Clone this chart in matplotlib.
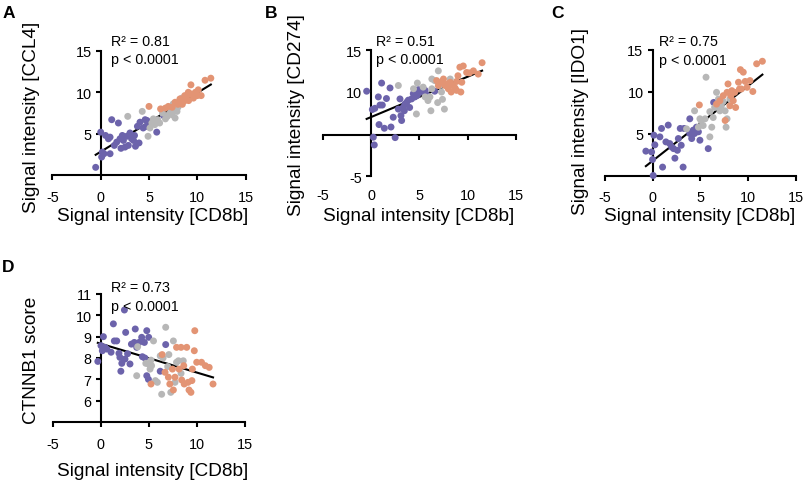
import matplotlib.pyplot as plt
import numpy as np

plt.rcParams['font.family'] = ['Liberation Sans', 'DejaVu Sans']
plt.rcParams['axes.unicode_minus'] = False

W, H = 805, 485
purple = '#6C63AB'
grey = '#B7B7B7'
orange = '#E39474'

# CD8b signal (x) and the other marker (y), by group
# panel A: CCL4
ccl4_purple_x = [-0.52, 0.1, 0.34, 0.17, 0.97, 0.0, 0.5, 0.97, 1.14, 1.83, 1.41, 1.66, 2.0, 2.24, 2.52, 2.1, 2.86,
                 2.7, 3.03, 3.2, 3.5, 3.6, 3.97, 3.8, 4.07, 4.4, 4.6, 4.8, 4.7, 5.8, 6.5, 3.4, 2.35, 0.8]
ccl4_purple_y = [0.96, 2.2, 2.6, 2.8, 2.6, 5.2, 4.8, 4.6, 6.7, 6.3, 3.6, 4.0, 4.4, 4.8, 3.4, 3.25, 3.6,
                 4.7, 5.1, 4.4, 4.8, 3.5, 3.9, 5.9, 6.4, 5.7, 6.7, 6.6, 5.9, 5.2, 7.2, 4.2, 4.2, 4.4]
ccl4_grey_x = [2.8, 4.3, 4.9, 5.1, 5.3, 5.6, 5.9, 6.1, 6.4, 6.7, 6.9, 7.1, 7.3, 7.5, 7.7, 7.9, 8.0, 8.2, 8.4, 7.4, 5.45]
ccl4_grey_y = [7.1, 7.7, 4.7, 5.7, 6.3, 6.1, 6.7, 6.3, 7.5, 6.8, 7.1, 7.4, 7.9, 8.6, 6.9, 7.7, 8.2, 8.9, 9.3, 7.3, 6.8]
ccl4_orange_x = [5.0, 6.2, 6.7, 7.0, 7.4, 7.7, 8.0, 8.45, 8.65, 8.9, 9.07, 9.34, 9.34, 9.6, 9.8, 10.1, 10.4, 10.8,
                 11.4, 9.1, 8.7, 8.2, 10.0]
ccl4_orange_y = [8.3, 8.0, 8.1, 8.3, 8.2, 8.8, 8.55, 8.55, 8.95, 9.5, 10.0, 10.9, 9.8, 9.3, 10.0, 10.3, 9.6, 11.45,
                 11.7, 9.0, 9.6, 9.2, 9.6]

# panel B: CD274
cd274_purple_x = [-0.45, 1.1, 1.97, 0.14, 0.4, 0.93, 1.17, 0.76, 1.6, 0.83, 1.38, 2.07, 2.3, 2.5, 0.24, 0.34, 3.0,
                  3.17, 3.1, 3.34, 3.5, 3.86, 4.0, 4.2, 4.38, 4.55, 4.8, 4.9, 5.24, 5.6, 5.76, 6.6, 2.83, 3.45, 3.7]
cd274_purple_y = [10.0, 11.0, 10.4, 7.75, 7.9, 8.3, 8.3, 9.3, 9.1, 5.9, 5.45, 5.6, 6.8, 4.3, 4.35, 3.4, 9.05,
                  6.4, 7.0, 8.0, 8.4, 8.9, 8.0, 9.05, 9.7, 9.3, 9.5, 10.2, 9.9, 10.1, 9.55, 10.0, 7.8, 7.6, 8.65]
cd274_grey_x = [2.83, 4.8, 4.4, 4.7, 5.4, 5.6, 5.9, 6.1, 6.2, 6.3, 6.97, 7.1, 7.3, 7.4, 7.6, 6.9, 8.2, 6.3, 6.6]
cd274_grey_y = [10.7, 11.0, 10.3, 7.2, 10.5, 9.3, 8.85, 9.3, 7.6, 11.5, 12.5, 10.7, 9.9, 9.0, 7.8, 8.6, 11.5, 10.3, 11.3]
cd274_orange_x = [6.8, 6.97, 7.3, 7.66, 7.9, 8.2, 8.5, 8.7, 8.86, 9.0, 9.2, 9.55, 9.3, 8.86, 9.9, 10.2, 10.6, 11.1,
                  11.5, 8.3, 8.0, 9.4, 7.5]
cd274_orange_y = [11.3, 10.7, 11.1, 10.7, 10.9, 11.1, 10.7, 10.4, 11.2, 11.9, 12.95, 13.1, 9.9, 10.1, 12.3, 12.25,
                  12.5, 12.1, 13.5, 9.9, 10.3, 11.1, 11.5]

# panel C: IDO1
ido1_purple_x = [0.07, -0.7, -0.1, 0.0, 0.14, 0.77, 1.05, 0.94, 1.64, 1.4, 1.8, 2.0, 2.2, 2.34, 2.6, 3.0, 2.9, 3.3,
                 3.2, 3.9, 3.9, 4.1, 4.26, 4.4, 4.6, 4.8, 4.96, 5.83, 6.4, 0.24, 2.7]
ido1_purple_y = [0.0, 2.9, 2.8, 1.9, 4.8, 4.6, 1.0, 5.6, 6.0, 4.0, 3.8, 3.4, 3.2, 2.06, 3.0, 3.6, 5.6, 5.6,
                 1.0, 6.75, 5.0, 4.4, 5.4, 5.0, 5.75, 5.2, 4.2, 3.2, 8.7, 3.65, 4.4]
ido1_grey_x = [4.4, 3.56, 5.1, 5.5, 5.3, 5.6, 6.0, 6.2, 6.35, 6.5, 6.7, 6.9, 7.05, 7.2, 7.4, 7.6, 7.7, 7.8, 8.1,
               4.8, 4.96, 6.0]
ido1_grey_y = [7.7, 5.55, 6.5, 6.75, 5.95, 11.7, 4.6, 5.75, 6.9, 8.1, 9.9, 9.1, 7.7, 8.3, 8.8, 7.7, 5.75, 6.75, 9.1,
               5.75, 6.75, 7.6]
ido1_orange_x = [4.9, 6.7, 7.05, 7.4, 7.6, 7.8, 7.9, 8.1, 8.3, 8.45, 8.6, 8.7, 9.0, 9.1, 9.2, 9.5, 9.3, 9.7, 9.9,
                 10.2, 10.5, 10.9, 11.5, 8.2]
ido1_orange_y = [8.4, 8.5, 8.9, 9.5, 6.55, 9.9, 10.9, 8.3, 10.1, 8.9, 9.9, 8.1, 11.1, 10.3, 12.6, 12.3, 10.3, 11.2,
                 10.5, 11.3, 10.0, 13.3, 13.6, 9.5]

# panel D: CTNNB1 score
ctnnb1_purple_x = [-0.3, 0.28, 0.03, 0.45, 0.17, 0.63, 1.08, 1.32, 1.42, 1.67, 1.9, 2.0, 2.1, 2.47, 2.6, 2.53, 2.8,
                   3.05, 3.2, 3.6, 3.5, 3.75, 4.0, 4.27, 4.55, 4.8, 5.0, 4.34, 4.6, 4.8, 4.97, 6.2, 6.77, 2.2]
ctnnb1_purple_y = [7.84, 9.0, 8.58, 8.5, 8.34, 8.42, 8.27, 9.6, 8.8, 8.8, 8.22, 8.03, 7.38, 10.25, 9.2, 7.95, 8.2,
                   7.72, 8.65, 9.36, 8.73, 8.5, 8.73, 8.97, 8.73, 9.28, 8.97, 8.06, 8.0, 7.17, 7.0, 7.38, 8.63, 7.75]
ctnnb1_grey_x = [3.85, 3.75, 4.7, 4.97, 5.14, 5.24, 5.5, 5.7, 5.9, 6.2, 6.35, 6.5, 6.77, 6.98, 7.1, 7.3, 7.57, 7.74,
                 7.9, 8.1, 8.6, 8.37, 5.3]
ctnnb1_grey_y = [8.53, 7.17, 7.75, 7.72, 7.48, 7.9, 8.8, 6.94, 6.86, 8.1, 6.3, 8.0, 9.44, 7.6, 8.16, 6.39, 8.8, 6.86,
                 7.8, 7.87, 7.87, 7.28, 7.64]
ctnnb1_orange_x = [5.24, 6.4, 6.7, 7.05, 7.2, 7.47, 7.57, 7.74, 7.9, 8.16, 8.37, 8.44, 8.65, 8.7, 8.96, 9.1, 9.2,
                   9.4, 9.5, 9.8, 9.75, 10.0, 9.55, 10.5, 10.9, 11.3, 11.7]
ctnnb1_orange_y = [6.78, 8.16, 7.33, 7.1, 6.78, 7.48, 6.5, 7.1, 8.5, 7.48, 8.5, 6.97, 7.64, 6.78, 8.5, 6.86, 6.5,
                   6.39, 6.94, 9.28, 8.34, 7.8, 7.48, 7.8, 7.64, 7.56, 6.78]

# trend lines (slope, intercept) and stats text
fits = {'A': (0.71, 2.84), 'B': (0.496, 6.82), 'C': (0.893, 1.74), 'D': (-0.135, 8.67)}
r2_text = {'A': 'R\u00b2 = 0.81', 'B': 'R\u00b2 = 0.51', 'C': 'R\u00b2 = 0.75', 'D': 'R\u00b2 = 0.73'}
p_text = 'p < 0.0001'
x_label = 'Signal intensity [CD8b]'
y_labels = {'A': 'Signal intensity [CCL4]', 'B': 'Signal intensity [CD274]',
            'C': 'Signal intensity [IDO1]', 'D': 'CTNNB1 score'}

fig = plt.figure(figsize=(W / 100, H / 100), dpi=100)


def px_text(x, y, s, **kw):
    fig.text(x / W, 1 - y / H, s, **kw)


def add_ax(l, t, r, b):
    return fig.add_axes([l / W, 1 - b / H, (r - l) / W, (b - t) / H])


def panel(ax, groups, key, ylim, ycross, yticks, yticklabels, xpad):
    for gx, gy, c in groups:
        ax.scatter(gx, gy, s=25, color=c, edgecolors='none', zorder=3, clip_on=False)
    allx = np.concatenate([np.array(g[0]) for g in groups])
    xs = np.array([allx.min(), allx.max()])
    m, b = fits[key]
    ax.plot(xs, m * xs + b, color='black', lw=1.5, zorder=2)
    ax.set_xlim(-5, 15)
    ax.set_ylim(*ylim)
    ax.spines['top'].set_visible(False)
    ax.spines['right'].set_visible(False)
    ax.spines['left'].set_position(('data', 0))
    ax.spines['bottom'].set_position(('data', ycross))
    for sp in ['left', 'bottom']:
        ax.spines[sp].set_linewidth(1.5)
    ax.set_xticks([-5, 0, 5, 10, 15])
    ax.set_yticks(yticks)
    ax.set_yticklabels(yticklabels)
    ax.tick_params(direction='out', length=3.6, width=1.5, labelsize=10.4)
    ax.tick_params(axis='x', pad=xpad)
    ax.tick_params(axis='y', pad=3)
    ax.patch.set_visible(False)


axA = add_ax(52.4, 51.8, 245.6, 176.3)
panel(axA, [(ccl4_purple_x, ccl4_purple_y, purple), (ccl4_grey_x, ccl4_grey_y, grey),
            (ccl4_orange_x, ccl4_orange_y, orange)], 'A', (0, 15), 0, [5, 10, 15], ['5', '10', '15'], 7)

axB = add_ax(322.7, 51.5, 515.9, 177.2)
panel(axB, [(cd274_purple_x, cd274_purple_y, purple), (cd274_grey_x, cd274_grey_y, grey),
            (cd274_orange_x, cd274_orange_y, orange)], 'B', (-0.44, 15), 4.68, [-0.44, 10, 15], ['-5', '10', '15'], 35)

axC = add_ax(604.8, 50.5, 795.8, 176.5)
panel(axC, [(ido1_purple_x, ido1_purple_y, purple), (ido1_grey_x, ido1_grey_y, grey),
            (ido1_orange_x, ido1_orange_y, orange)], 'C', (0, 15), 0, [5, 10, 15], ['5', '10', '15'], 7)

axD = add_ax(52.7, 295, 244.7, 423)
panel(axD, [(ctnnb1_purple_x, ctnnb1_purple_y, purple), (ctnnb1_grey_x, ctnnb1_grey_y, grey),
            (ctnnb1_orange_x, ctnnb1_orange_y, orange)], 'D', (5, 11), 5, [6, 7, 8, 9, 10, 11],
      ['6', '7', '8', '9', '10', '11'], 7)

# labels
lab = dict(fontsize=13.7, ha='center', va='center')
px_text(152.5, 216.7, x_label, **lab)
px_text(419, 216.7, x_label, **lab)
px_text(700, 217, x_label, **lab)
px_text(152.5, 472, x_label, **lab)
px_text(31.7, 117, y_labels['A'], rotation=90, **lab)
px_text(296.7, 115, y_labels['B'], rotation=90, **lab)
px_text(580, 121.5, y_labels['C'], rotation=90, **lab)
px_text(31.7, 360, y_labels['D'], rotation=90, **lab)

let = dict(fontsize=12.5, fontweight='bold', ha='center', va='center')
px_text(8.5, 14, 'A', **let)
px_text(271.5, 14, 'B', **let)
px_text(557.5, 14, 'C', **let)
px_text(8.5, 267, 'D', **let)

st = dict(fontsize=10.3, ha='left', va='baseline')
for key, x0, y0 in [('A', 111, 45.7), ('B', 376, 45.7), ('C', 659.3, 46.5), ('D', 111, 292.3)]:
    px_text(x0, y0, r2_text[key], **st)
    px_text(x0, y0 + 18.5, p_text, **st)

fig.savefig('out.png', dpi=100)
